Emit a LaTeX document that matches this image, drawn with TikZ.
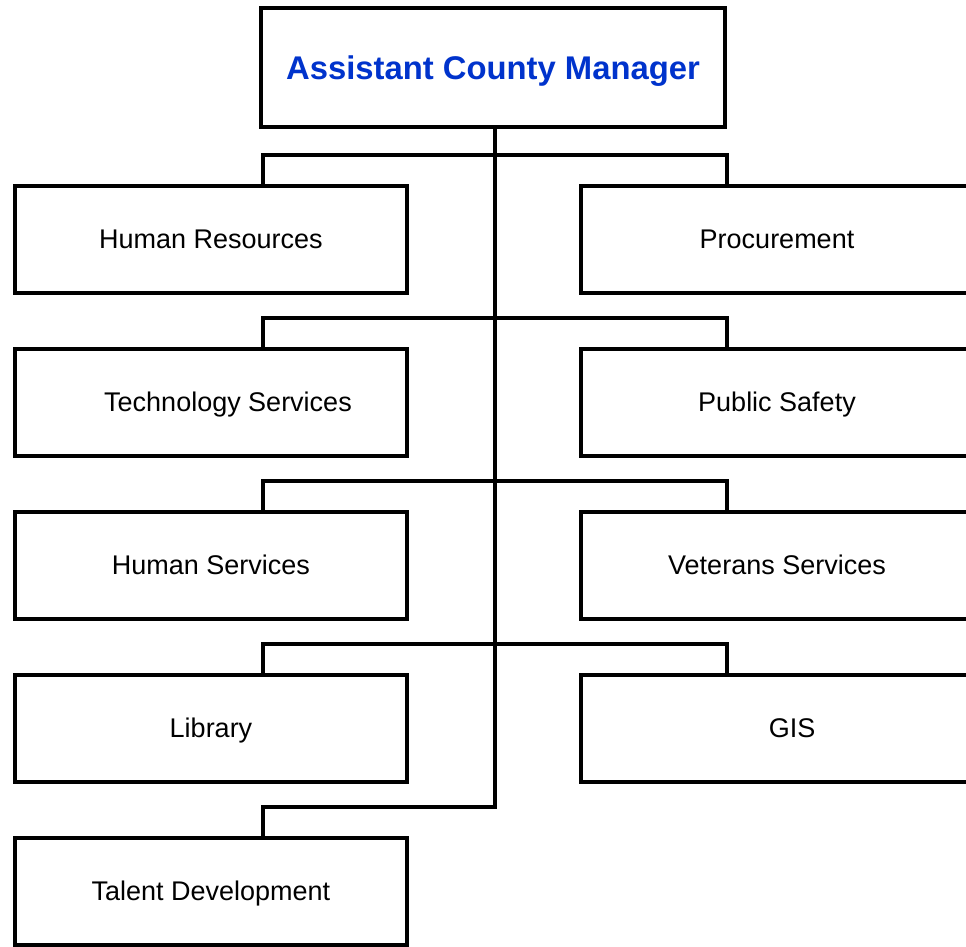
\documentclass[tikz,border=0pt]{standalone}
\usepackage{fontspec}
\setmainfont{Liberation Sans}
\definecolor{titleblue}{RGB}{0,51,204}
\begin{document}
\begin{tikzpicture}[x=1pt,y=-1pt,
  box/.style={draw=black,line width=4pt,rectangle,outer sep=0pt,inner sep=0pt,
    minimum width=392.5pt,minimum height=106.5pt,text height=19.3pt,text depth=-2pt,
    font=\fontsize{27}{30}\selectfont},
  topbox/.style={draw=black,line width=4pt,rectangle,outer sep=0pt,inner sep=0pt,
    minimum width=464pt,minimum height=119pt,text height=23.5pt,text depth=-2pt,
    font=\fontsize{32.8}{36}\bfseries\selectfont,text=titleblue},
  link/.style={line width=4pt,line join=miter}]
\useasboundingbox (0,0) rectangle (966,946);
\clip (0,0) rectangle (966,946);
\node[topbox] (top) at (493,67.5) {Assistant County Manager};
\node[box] (l1) at (211,239.25) {Human Resources};
\node[box] (r1) at (777,239.25) {Procurement};
\node[box] (l2) at (211,402.25) {\hspace*{34pt}Technology Services};
\node[box] (r2) at (777,402.25) {Public Safety};
\node[box] (l3) at (211,565.25) {Human Services};
\node[box] (r3) at (777,565.25) {Veterans Services};
\node[box] (l4) at (211,728.25) {Library};
\node[box] (r4) at (777,728.25) {\hspace*{30pt}GIS};
\node[box] (l5) at (211,891.25) {Talent Development};
\coordinate (j1) at (494.5,154.5);
\coordinate (j2) at (494.5,317.5);
\coordinate (j3) at (494.5,480.5);
\coordinate (j4) at (494.5,643.5);
\coordinate (j5) at (494.5,806.5);
\draw[link] (top.south -| j1) -- (j5) -| ([xshift=52pt]l5.north);
\foreach \k in {1,2,3,4}{
  \draw[link] ([xshift=52pt]l\k.north) |- (j\k) -| ([xshift=-50pt]r\k.north);
}
\end{tikzpicture}
\end{document}
